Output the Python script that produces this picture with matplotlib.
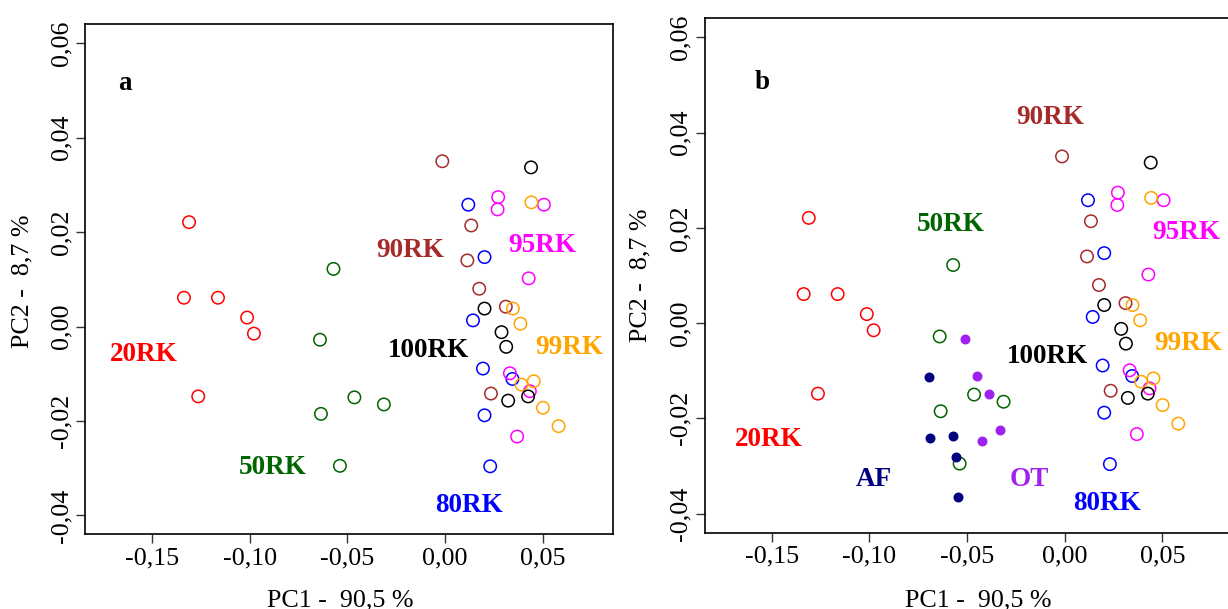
import matplotlib
matplotlib.use("Agg")
import matplotlib.pyplot as plt

plt.rcParams["font.family"] = ["Liberation Serif", "DejaVu Serif"]

# PCA scores (PC1, PC2) per group
rk20_x = [-0.1310, -0.1336, -0.1162, -0.1013, -0.0978, -0.1263]
rk20_y = [0.0221, 0.0061, 0.0061, 0.0019, -0.0015, -0.0148]

rk50_x = [-0.0571, -0.0640, -0.0635, -0.0538, -0.0464, -0.0313]
rk50_y = [0.0122, -0.0028, -0.0185, -0.0295, -0.0150, -0.0165]

rk80_x = [0.0119, 0.0202, 0.0143, 0.0194, 0.0345, 0.0202, 0.0231]
rk80_y = [0.0258, 0.0147, 0.0013, -0.0089, -0.0111, -0.0188, -0.0296]

rk90_x = [-0.0014, 0.0134, 0.0114, 0.0175, 0.0311, 0.0235]
rk90_y = [0.0350, 0.0214, 0.0140, 0.0080, 0.0042, -0.0142]

rk95_x = [0.0272, 0.0269, 0.0506, 0.0428, 0.0332, 0.0434, 0.0369]
rk95_y = [0.0274, 0.0248, 0.0258, 0.0102, -0.0099, -0.0137, -0.0233]

rk99_x = [0.0442, 0.0347, 0.0386, 0.0454, 0.0391, 0.0501, 0.0581]
rk99_y = [0.0263, 0.0038, 0.0006, -0.0116, -0.0123, -0.0172, -0.0211]

rk100_x = [0.0440, 0.0202, 0.0289, 0.0313, 0.0323, 0.0425]
rk100_y = [0.0337, 0.0038, -0.0012, -0.0043, -0.0157, -0.0148]

af_x = [-0.0694, -0.0689, -0.0574, -0.0558, -0.0547]
af_y = [-0.0114, -0.0242, -0.0236, -0.0282, -0.0364]

ot_x = [-0.0508, -0.0450, -0.0389, -0.0330, -0.0423]
ot_y = [-0.0033, -0.0112, -0.0149, -0.0224, -0.0247]

x_ticks = [-0.15, -0.10, -0.05, 0.00, 0.05]
x_tick_labels = ["-0,15", "-0,10", "-0,05", "0,00", "0,05"]
y_ticks = [-0.04, -0.02, 0.00, 0.02, 0.04, 0.06]
y_tick_labels = ["-0,04", "-0,02", "0,00", "0,02", "0,04", "0,06"]

xlabel = "PC1 -  90,5 %"
ylabel = "PC2 -  8,7 %"

groups = [
    ("20RK", rk20_x, rk20_y, "#FF0000"),
    ("50RK", rk50_x, rk50_y, "#006400"),
    ("80RK", rk80_x, rk80_y, "#0000FF"),
    ("90RK", rk90_x, rk90_y, "#A52A2A"),
    ("95RK", rk95_x, rk95_y, "#FF00FF"),
    ("99RK", rk99_x, rk99_y, "#FFA500"),
    ("100RK", rk100_x, rk100_y, "#000000"),
]
extra_groups = [
    ("AF", af_x, af_y, "#000080"),
    ("OT", ot_x, ot_y, "#A020F0"),
]

# group label placements for each panel
labels_a = {
    "20RK": (-0.1544, -0.0059), "50RK": (-0.0884, -0.0298),
    "80RK": (0.0122, -0.0379), "90RK": (-0.0178, 0.0160),
    "95RK": (0.0496, 0.0171), "99RK": (0.0638, -0.0045),
    "100RK": (-0.0085, -0.0050),
}
labels_b = {
    "20RK": (-0.1513, -0.0245), "50RK": (-0.0582, 0.0207),
    "80RK": (0.0218, -0.0378), "90RK": (-0.0076, 0.0432),
    "95RK": (0.0621, 0.0191), "99RK": (0.0633, -0.0043),
    "100RK": (-0.0090, -0.0070), "AF": (-0.0978, -0.0329),
    "OT": (-0.0183, -0.0328),
}

W, H = 1228, 609
fig = plt.figure(figsize=(W / 100, H / 100), dpi=100)

ax_a = fig.add_axes([85.3 / W, 1 - 534.3 / H, 527.4 / W, 510.0 / H])
ax_b = fig.add_axes([705.0 / W, 1 - 532.7 / H, 527.4 / W, 514.4 / H])

XLIM = (-0.1841, 0.0858)
YLIM = (-0.0440, 0.0640)
TICK_FS = 18.7
LABEL_FS = 19.5


def style_axes(ax):
    ax.set_xlim(*XLIM)
    ax.set_ylim(*YLIM)
    ax.set_xticks(x_ticks)
    ax.set_xticklabels(x_tick_labels, fontsize=TICK_FS)
    ax.set_yticks(y_ticks)
    ax.set_yticklabels(y_tick_labels, fontsize=TICK_FS, rotation=90, va="center")
    ax.tick_params(direction="out", length=6.5, width=1.0, color="#333333", pad=3)
    for sp in ax.spines.values():
        sp.set_linewidth(1.2)
        sp.set_color("black")


def draw_groups(ax, label_pos, with_extra):
    for name, xs, ys, col in groups:
        ax.scatter(xs, ys, s=80, facecolors="none", edgecolors=col,
                   linewidths=1.1, zorder=3)
        lx, ly = label_pos[name]
        ax.text(lx, ly, name, color=col, fontsize=LABEL_FS, fontweight="bold",
                ha="center", va="center")
    if with_extra:
        for name, xs, ys, col in extra_groups:
            ax.scatter(xs, ys, s=38, color=col, edgecolors=col, zorder=4)
            lx, ly = label_pos[name]
            ax.text(lx, ly, name, color=col, fontsize=LABEL_FS,
                    fontweight="bold", ha="center", va="center")


style_axes(ax_a)
style_axes(ax_b)
draw_groups(ax_a, labels_a, False)
draw_groups(ax_b, labels_b, True)

ax_a.text(-0.1637, 0.0515, "a", fontsize=LABEL_FS, fontweight="bold",
          ha="center", va="center")
ax_b.text(-0.1548, 0.0505, "b", fontsize=LABEL_FS, fontweight="bold",
          ha="center", va="center")

fig.text(340 / W, 1 - 600 / H, xlabel, fontsize=TICK_FS, ha="center", va="center")
fig.text(978 / W, 1 - 600 / H, xlabel, fontsize=TICK_FS, ha="center", va="center")
fig.text(22 / W, 1 - 281 / H, ylabel, fontsize=TICK_FS, ha="center",
         va="center", rotation=90)
fig.text(640 / W, 1 - 275 / H, ylabel, fontsize=TICK_FS, ha="center",
         va="center", rotation=90)

fig.savefig("out.png", dpi=100)
